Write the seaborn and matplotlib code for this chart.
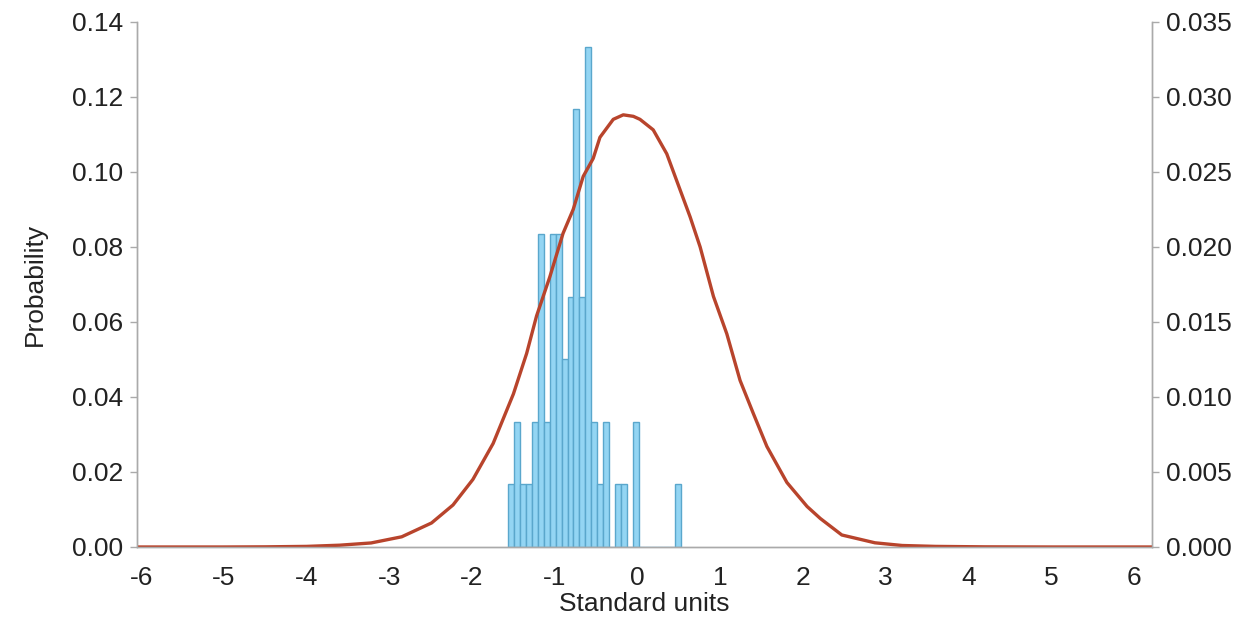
import numpy as np
import pandas as pd
import matplotlib
matplotlib.use("Agg")
import matplotlib.pyplot as plt
import seaborn as sns

# ---------------- data ----------------
hist_start = -1.568
hist_bin_width = 0.0722
hist_counts = [1, 2, 1, 1, 2, 5, 2, 5, 5, 3, 4, 7, 4, 8, 2, 1, 2, 0, 1, 1, 0, 2,
               0, 0, 0, 0, 0, 0, 1]
n_total = 60

curve_x = [-6.05, -5.0, -4.5, -4.0, -3.6, -3.22, -2.85, -2.49, -2.23, -1.99,
           -1.745, -1.50, -1.34, -1.22, -1.06, -0.90, -0.777, -0.656, -0.535, -0.454,
           -0.293, -0.172, -0.05, 0.03, 0.19, 0.354, 0.515, 0.636, 0.757, 0.918,
           1.08, 1.24, 1.40, 1.564, 1.806, 2.05, 2.21, 2.47, 2.87, 3.2,
           3.6, 4.2, 5.0, 6.22]
curve_y = [0.0, 0.0, 0.00001, 0.00004, 0.00012, 0.00027, 0.00068, 0.0016, 0.0028, 0.0045,
           0.0069, 0.0102, 0.0129, 0.0154, 0.0180, 0.0209, 0.0225, 0.0247, 0.0259, 0.0273,
           0.0285, 0.0288, 0.0287, 0.0285, 0.0278, 0.0262, 0.0238, 0.0220, 0.0200, 0.0167,
           0.0142, 0.0111, 0.0089, 0.0067, 0.0043, 0.0027, 0.0019, 0.0008, 0.00028, 0.0001,
           0.00004, 0.00001, 0.0, 0.0]

x_ticks = [-6, -5, -4, -3, -2, -1, 0, 1, 2, 3, 4, 5, 6]
left_ticks = [0.00, 0.02, 0.04, 0.06, 0.08, 0.10, 0.12, 0.14]
right_ticks = [0.000, 0.005, 0.010, 0.015, 0.020, 0.025, 0.030, 0.035]

# ---------------- derived ----------------
nb = len(hist_counts)
centers = hist_start + hist_bin_width * (np.arange(nb) + 0.5)
probs = np.array(hist_counts, dtype=float) / n_total
hist_df = pd.DataFrame({"x": centers, "p": probs})
curve_df = pd.DataFrame({"x": curve_x, "y": curve_y})

# ---------------- style ----------------
sns.set_theme(style="white")
plt.rcParams["font.family"] = ["Liberation Sans", "DejaVu Sans"]
plt.rcParams["axes.unicode_minus"] = False

FS = 19
fig = plt.figure(figsize=(12.57, 6.23), dpi=100)
ax = fig.add_axes([0.109, 0.122, 0.8075, 0.843])

sns.histplot(data=hist_df, x="x", weights="p",
             binwidth=hist_bin_width,
             binrange=(hist_start, hist_start + nb * hist_bin_width),
             ax=ax, color="#93d5f3", edgecolor="#5aa7cc", linewidth=1.0,
             alpha=1.0, stat="count")

ax.set_xlim(-6.05, 6.22)
ax.set_ylim(0, 0.14)
ax.set_xticks(x_ticks)
ax.set_xticklabels([str(t) for t in x_ticks])
ax.set_yticks(left_ticks)
ax.set_yticklabels([f"{t:.2f}" for t in left_ticks])
ax.set_xlabel("Standard units", fontsize=FS, color="#222222", labelpad=1)
ax.set_ylabel("Probability", fontsize=FS, color="#222222", labelpad=18)

ax2 = ax.twinx()
sns.lineplot(data=curve_df, x="x", y="y", ax=ax2, color="#b8442c", linewidth=2.4)
ax2.set_ylim(0, 0.035)
ax2.set_yticks(right_ticks)
ax2.set_yticklabels([f"{t:.3f}" for t in right_ticks])
ax2.set_ylabel("")
ax2.set_xlim(-6.05, 6.22)

for a in (ax, ax2):
    for side in ("left", "right", "bottom"):
        a.spines[side].set_color("#aaaaaa")
        a.spines[side].set_linewidth(1.0)
    a.spines["top"].set_visible(False)
    a.tick_params(axis="y", direction="out", length=5, width=1,
                  color="#aaaaaa", labelsize=FS, labelcolor="#222222", pad=5)
    a.tick_params(axis="x", length=0, labelsize=FS, labelcolor="#222222", pad=14)

fig.savefig("out.png", dpi=100, facecolor="white")
